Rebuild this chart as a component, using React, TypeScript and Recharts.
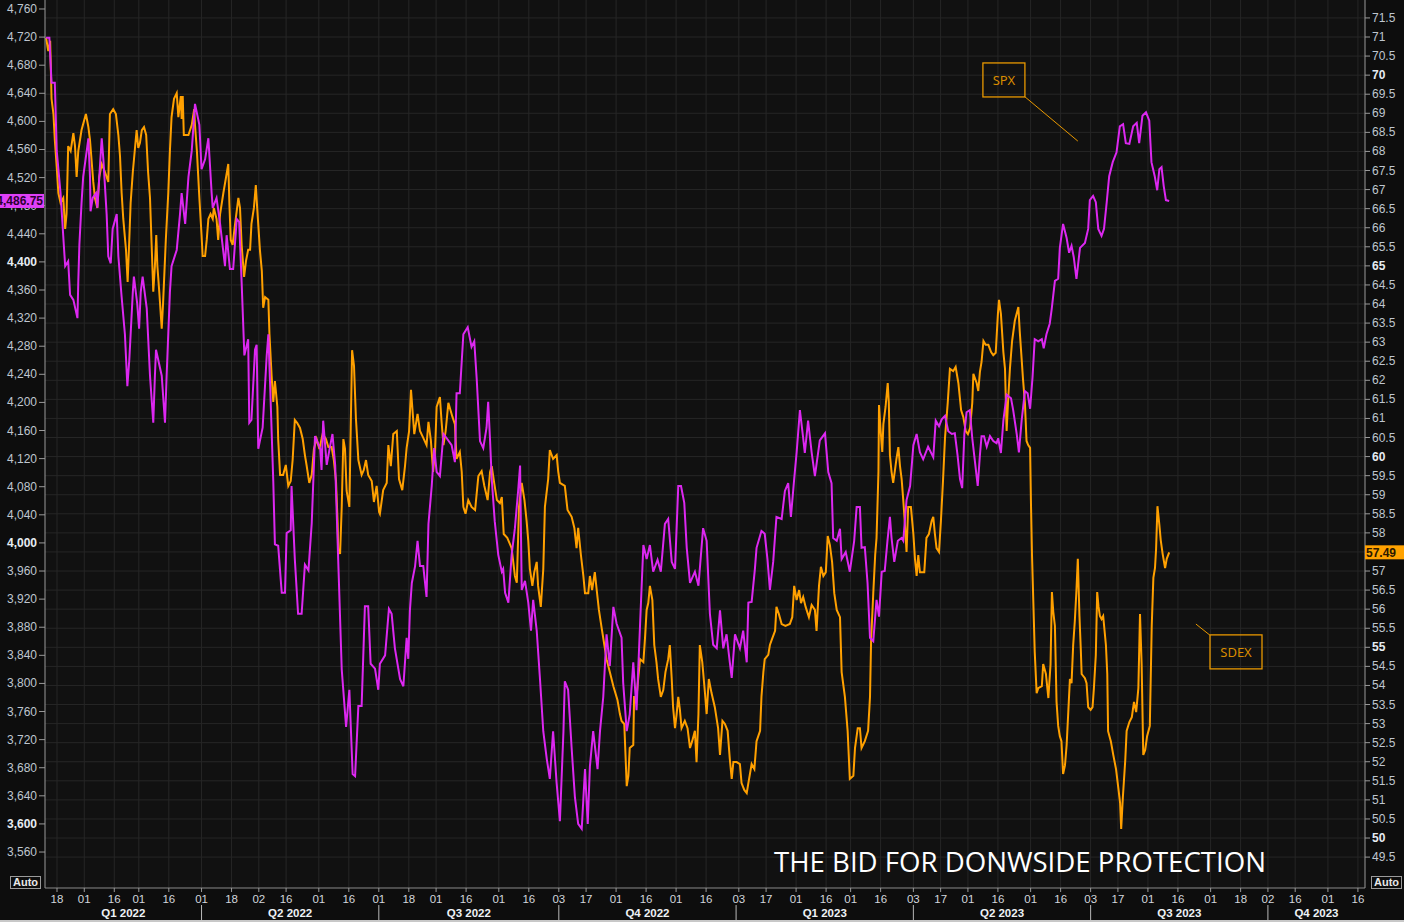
import React from 'react';
import { ComposedChart, Line, XAxis, YAxis, CartesianGrid, ReferenceLine, ReferenceDot } from 'recharts';

// x values = trading-day (weekday) index counted from 2022-01-12
const START = '2022-01-12';

const SPX: [number, number][] = [[0,4719],[1.2,4719],[2.0,4655],[3.2,4655],[3.9,4558],[5.3,4498],[6.5,4424],[7.0,4394],[8.1,4401],[8.8,4353],[10.0,4346],[11.5,4320],[11.8,4371],[12.2,4424],[13.0,4484],[13.6,4521],[14.9,4558],[15.5,4576],[16.1,4521],[16.3,4472],[17.1,4491],[18.3,4498],[18.8,4477],[19.5,4521],[20.4,4576],[21.0,4546],[22.2,4468],[22.8,4408],[23.7,4398],[24.4,4447],[25.9,4468],[26.5,4408],[27.7,4350],[28.9,4297],[29.8,4223],[30.5,4260],[31.8,4357],[32.2,4379],[33.4,4341],[34.1,4305],[34.7,4357],[35.4,4379],[36.9,4334],[38.1,4238],[39.3,4171],[39.9,4238],[40.3,4275],[42.4,4238],[43.6,4171],[44.2,4238],[45.4,4357],[46.0,4394],[47.9,4417],[49.1,4468],[49.7,4498],[51.0,4454],[52.2,4521],[53.4,4558],[54.6,4625],[56.2,4595],[57.0,4532],[58.3,4546],[59.5,4576],[60.7,4498],[61.1,4477],[62.5,4491],[63.8,4454],[65.6,4394],[66.2,4438],[67.4,4390],[68.6,4390],[69.9,4461],[70.8,4457],[71.7,4371],[72.7,4267],[74.1,4290],[74.5,4171],[75.3,4175],[76.6,4275],[77.2,4282],[77.8,4134],[79.4,4164],[80.9,4267],[81.5,4297],[82.1,4230],[83.3,4088],[83.9,3998],[85.1,3996],[86.4,3929],[87.6,3929],[88.2,4014],[89.7,4018],[90.0,4081],[91.2,3977],[92.4,3899],[93.7,3899],[94.9,3969],[96.2,3961],[97.4,4028],[98.6,4152],[100.5,4134],[101.0,4104],[101.6,4174],[102.9,4111],[104.1,4137],[105.0,4155],[106.0,4111],[107.1,3977],[108.4,3820],[110.0,3738],[111.2,3791],[112.4,3671],[113.3,3668],[114.5,3768],[115.7,3768],[116.9,3910],[118.1,3910],[119.0,3828],[120.6,3821],[121.8,3791],[122.4,3828],[124.3,3840],[125.7,3906],[126.7,3899],[127.9,3850],[129.8,3806],[131.0,3796],[132.2,3865],[132.8,3835],[133.4,3904],[134.1,3943],[135.3,3967],[136.2,4003],[137.1,3967],[138.3,3967],[139.5,3923],[140.2,4027],[141.4,4081],[142.3,4135],[143.2,4101],[144.4,4095],[145.7,4155],[146.9,4149],[148.7,4139],[149.9,4115],[150.5,4213],[151.7,4213],[153.0,4297],[154.6,4307],[156.0,4279],[157.0,4287],[157.9,4233],[159.1,4145],[160.3,4135],[161.5,4164],[162.1,4201],[162.8,4145],[163.4,4091],[164.5,4031],[165.8,3983],[167.1,3959],[167.6,3963],[168.3,3929],[169.5,3915],[170.7,3983],[171.9,4021],[173.1,4075],[173.8,4110],[174.4,3933],[175.6,3946],[176.8,3915],[177.8,3875],[178.6,3919],[179.9,3875],[181.1,3806],[182.3,3732],[183.6,3692],[184.7,3664],[185.9,3732],[187.2,3658],[188.4,3604],[189.7,3732],[190.2,3803],[191.4,3791],[192.7,3708],[193.9,3638],[195.1,3600],[196.4,3593],[197.6,3678],[198.6,3600],[199.4,3682],[200.6,3732],[202.2,3678],[203.1,3732],[204.3,3781],[205.5,3870],[206.7,3825],[208.0,3909],[209.2,3885],[211.0,3865],[211.6,3801],[212.9,3732],[214.0,3756],[215.3,3830],[216.5,3762],[217.8,3885],[219.0,3997],[220.2,3977],[221.4,3997],[222.6,3959],[224.2,3976],[225.4,3959],[226.9,4027],[228.1,4034],[229.4,3973],[230.6,3963],[231.8,4081],[232.8,4081],[234.0,4057],[234.9,3993],[236.1,3943],[237.9,3959],[239.2,3939],[240.9,4021],[242.2,4003],[243.4,3899],[244.6,3855],[245.9,3850],[247.1,3904],[248.3,3850],[249.5,3870],[250.7,3830],[251.4,3808],[252.6,3870],[254.4,3850],[255.6,3875],[256.9,3830],[257.5,3915],[258.7,3916],[259.9,3963],[260.5,3993],[262.3,4017],[263.5,4013],[264.5,3977],[265.4,3933],[266.6,3973],[267.8,4037],[269.7,4034],[270.9,4074],[272.1,4085],[273.1,4037],[274.3,4091],[275.2,4129],[276.4,4189],[277.6,4149],[278.2,4128],[279.4,4174],[280.7,4129],[281.9,4095],[283.7,4146],[285.6,4156],[286.8,4101],[288.0,4085],[288.6,4007],[289.9,4003],[291.1,4020],[291.7,3977],[293.2,3987],[294.7,3959],[296.3,4003],[297.2,4051],[298.4,4051],[299.0,3993],[300.2,3994],[301.2,3943],[302.1,3865],[303.3,3860],[304.5,3919],[305.4,3895],[306.4,3959],[307.5,3960],[308.5,4003],[309.4,4037],[310.0,4007],[311.0,3973],[312.3,4003],[313.7,4007],[314.3,4003],[315.5,4061],[316.8,4081],[318.0,4139],[319.2,4155],[320.4,4129],[321.6,4119],[323.4,4137],[325.3,4122],[326.2,4174],[327.4,4166],[328.4,4176],[329.6,4181],[330.8,4159],[332.1,4155],[333.2,4156],[334.2,4125],[335.1,4091],[335.9,4078],[336.7,4155],[337.5,4186],[338.7,4189],[339.6,4149],[340.6,4115],[341.6,4081],[342.4,4125],[343.0,4152],[343.9,4152],[344.9,4137],[346.1,4152],[347.3,4145],[348.5,4142],[349.1,4149],[350.1,4128],[351.0,4174],[352.2,4211],[353.8,4206],[354.6,4189],[355.9,4155],[356.7,4129],[357.7,4174],[358.9,4216],[359.9,4213],[360.8,4191],[361.7,4236],[362.5,4290],[363.8,4287],[365.1,4290],[365.8,4277],[366.8,4297],[368.0,4312],[368.7,4332],[369.9,4373],[371.1,4376],[371.7,4420],[372.9,4454],[374.2,4434],[375.1,4413],[376.0,4423],[376.8,4407],[377.8,4376],[379.1,4420],[380.9,4427],[382.1,4447],[382.7,4488],[383.9,4494],[384.9,4485],[385.8,4447],[387.0,4437],[387.9,4447],[388.9,4485],[389.8,4522],[391.1,4542],[392.5,4556],[393.7,4593],[394.9,4596],[395.9,4569],[397.2,4568],[398.6,4593],[399.9,4598],[400.8,4569],[402.0,4608],[403.3,4613],[404.5,4601],[405.3,4542],[406.5,4522],[407.4,4502],[408.2,4532],[409.0,4535],[409.8,4508],[410.6,4488],[411.8,4486.75]];

const SDEX: [number, number][] = [[0,70.98],[0.8,70.63],[1.5,70.9],[2.0,69.38],[2.7,68.98],[3.2,68.3],[3.9,67.59],[4.5,66.91],[5.3,66.65],[6.3,66.78],[7.0,65.97],[7.5,66.36],[8.1,68.14],[9.0,68.01],[10.0,68.48],[10.6,68.14],[11.2,67.33],[11.8,68.01],[13.0,68.56],[14.6,68.98],[15.5,68.64],[16.1,68.3],[16.7,67.75],[17.3,67.2],[17.9,66.78],[18.8,66.52],[19.5,67.33],[20.4,67.67],[21.6,67.46],[22.8,67.2],[23.4,68.98],[24.6,69.11],[25.6,68.98],[26.5,68.43],[27.1,67.88],[27.7,66.91],[28.3,66.23],[29.3,65.42],[29.9,64.58],[30.5,65.68],[31.0,66.65],[31.8,67.46],[32.6,68.09],[33.2,68.56],[33.8,68.09],[34.4,68.22],[35.1,68.56],[35.9,68.64],[36.7,68.43],[37.4,67.46],[38.1,66.78],[38.7,65.55],[39.3,64.32],[39.9,65.0],[40.4,65.81],[40.8,65.0],[41.5,64.32],[42.4,63.35],[42.9,64.03],[43.9,65.68],[44.8,66.91],[45.4,68.01],[46.0,68.9],[46.9,69.38],[47.9,69.53],[48.5,68.9],[49.4,69.45],[49.7,68.85],[50.1,69.45],[50.5,68.43],[52.2,68.43],[53.4,68.69],[54.3,69.11],[54.6,68.69],[55.3,68.01],[56.2,66.78],[57.0,65.81],[57.4,65.26],[58.3,65.26],[58.9,65.68],[59.5,66.23],[60.3,66.36],[61.1,66.23],[61.5,66.52],[62.5,66.23],[63.1,65.68],[63.8,66.36],[65.0,66.91],[66.0,67.33],[66.8,67.67],[67.2,66.65],[67.7,65.68],[68.4,65.55],[69.3,66.1],[70.5,66.78],[71.1,66.52],[71.7,65.55],[72.6,64.71],[73.3,65.13],[74.1,65.42],[74.8,65.42],[75.3,66.1],[76.2,66.52],[76.9,67.12],[77.4,66.52],[78.4,65.42],[79.1,64.87],[79.6,63.9],[80.3,64.18],[81.5,64.11],[81.9,63.21],[82.7,62.11],[83.3,61.43],[83.9,61.98],[84.8,61.3],[85.1,60.46],[85.8,59.52],[86.9,59.52],[87.9,59.78],[88.8,59.23],[89.7,59.36],[90.4,59.91],[91.2,60.96],[92.1,60.88],[93.1,60.75],[94.1,60.46],[94.9,60.04],[95.5,59.78],[96.5,59.31],[97.4,59.52],[98.2,60.2],[99.2,60.46],[100.2,60.2],[101.4,60.59],[102.6,60.46],[103.5,60.25],[104.7,60.25],[105.5,59.91],[106.3,59.36],[106.9,58.26],[107.1,57.58],[107.8,57.45],[108.4,58.68],[109.0,60.46],[109.6,60.2],[110.2,59.1],[111.2,58.68],[111.7,60.75],[112.2,62.79],[112.9,62.38],[113.6,61.01],[114.5,59.91],[115.7,59.52],[116.5,59.65],[117.3,59.91],[118.1,59.52],[119.4,59.36],[120.2,58.81],[121.2,59.23],[122.1,58.55],[122.4,58.5],[123.6,59.12],[124.9,59.31],[125.5,60.3],[126.4,59.75],[127.3,60.59],[128.6,60.67],[129.4,59.41],[130.6,59.12],[131.6,59.75],[132.2,60.23],[133.1,60.67],[133.8,61.75],[135.0,60.59],[136.2,61.12],[137.1,60.67],[138.3,60.49],[139.5,60.3],[140.2,60.91],[141.1,60.41],[141.9,59.6],[142.6,60.12],[143.2,61.3],[144.4,61.56],[145.0,60.93],[145.7,60.3],[146.5,60.67],[147.5,61.41],[149.0,61.04],[149.9,60.85],[150.5,59.94],[151.7,60.12],[152.4,59.6],[153.0,58.68],[153.8,58.5],[154.8,58.86],[156.0,58.68],[157.3,58.6],[158.5,59.49],[159.7,59.62],[160.7,59.23],[161.9,58.86],[162.8,59.6],[163.4,59.75],[164.3,59.31],[165.3,58.86],[166.4,58.78],[167.1,58.94],[167.8,57.97],[169.1,57.87],[170.7,57.6],[171.9,56.87],[172.6,56.69],[173.4,58.68],[174.4,59.31],[175.4,58.86],[176.2,58.31],[176.8,57.79],[177.4,57.05],[178.3,56.61],[179.0,56.97],[179.9,57.24],[180.4,56.61],[181.4,56.06],[182.3,57.05],[182.9,58.68],[184.1,59.41],[184.7,60.17],[185.9,59.94],[187.2,60.04],[187.8,59.6],[188.4,59.31],[190.2,59.23],[191.2,58.6],[192.7,58.42],[193.7,58.13],[194.5,57.6],[195.1,58.13],[196.1,57.42],[197.0,56.87],[197.6,56.42],[198.8,56.42],[199.4,56.87],[200.2,56.5],[201.2,56.97],[201.9,56.5],[202.7,55.98],[203.7,55.51],[204.7,55.06],[205.5,54.69],[206.7,54.35],[208.0,53.98],[209.5,53.62],[210.4,53.25],[211.0,53.07],[212.0,52.99],[212.9,51.36],[213.5,51.63],[214.0,52.36],[215.3,52.44],[215.6,53.7],[216.5,53.7],[217.1,54.17],[217.8,54.69],[219.0,54.61],[219.6,55.24],[220.2,55.98],[220.8,56.16],[221.4,56.61],[222.3,56.24],[223.0,55.06],[223.8,54.61],[224.4,54.17],[225.4,53.7],[226.3,53.88],[227.1,54.35],[228.1,54.69],[228.7,55.06],[229.4,54.17],[229.9,53.43],[230.6,52.88],[231.2,53.25],[231.8,53.7],[232.4,53.36],[233.0,52.88],[234.2,53.07],[235.2,52.88],[236.1,52.36],[236.9,52.54],[237.9,52.81],[238.5,51.99],[239.2,53.25],[239.7,55.06],[240.6,54.61],[241.6,53.8],[242.2,53.25],[243.0,54.17],[244.0,53.8],[245.2,53.43],[246.4,52.88],[247.1,52.18],[248.0,53.07],[248.9,52.99],[249.9,52.81],[250.7,52.07],[251.4,51.55],[252.0,51.99],[253.2,51.99],[254.4,51.94],[255.0,51.44],[256.0,51.26],[256.9,51.18],[257.5,51.44],[258.7,51.94],[259.7,51.81],[260.5,52.54],[261.8,52.81],[262.3,53.7],[263.0,54.35],[263.5,54.69],[264.8,54.8],[265.4,55.06],[266.3,55.24],[267.3,55.43],[267.8,56.06],[268.7,55.87],[269.7,55.61],[271.1,55.56],[272.7,55.61],[273.6,55.79],[274.3,56.61],[275.2,56.24],[276.1,56.5],[276.8,56.16],[277.6,56.32],[278.5,56.06],[279.7,55.79],[280.7,56.11],[281.9,55.98],[282.5,55.43],[283.4,56.61],[284.1,57.11],[285.0,56.87],[285.9,56.97],[286.6,57.92],[287.4,57.68],[288.2,57.24],[289.0,56.42],[289.9,55.98],[291.1,55.79],[291.7,54.35],[292.9,53.7],[293.9,52.81],[294.7,51.55],[296.0,51.63],[296.6,52.36],[297.6,52.88],[298.4,52.88],[299.0,52.36],[300.2,52.54],[301.4,52.81],[302.1,53.7],[302.5,55.17],[303.3,56.42],[304.0,57.42],[304.5,57.87],[305.2,59.6],[305.4,61.35],[306.0,60.67],[306.6,60.12],[307.0,60.85],[307.8,61.3],[308.6,61.93],[309.0,61.41],[309.4,60.04],[310.0,59.6],[310.6,59.31],[311.3,59.67],[311.8,59.94],[312.5,60.25],[313.1,59.75],[313.7,59.41],[314.3,58.86],[314.9,58.23],[315.5,57.5],[316.1,58.68],[317.1,58.68],[318.0,57.97],[318.6,57.31],[319.2,56.87],[319.8,57.42],[320.4,56.97],[322.0,56.97],[322.8,57.87],[323.7,57.97],[324.7,58.31],[325.3,58.42],[325.9,57.97],[326.5,57.6],[327.4,57.5],[328.1,58.31],[328.9,59.41],[329.6,60.49],[330.6,61.41],[331.4,62.3],[332.6,62.24],[333.5,62.35],[334.5,61.93],[335.5,61.22],[336.3,61.04],[337.2,60.67],[338.0,60.59],[338.8,60.75],[339.6,61.41],[340.0,62.17],[341.2,61.93],[341.8,61.72],[342.4,62.22],[343.0,62.48],[343.7,63.03],[344.5,62.93],[345.5,62.93],[346.5,62.74],[347.3,62.66],[348.2,62.72],[349.0,63.74],[349.4,64.11],[350.1,63.74],[351.0,62.74],[351.6,62.3],[352.2,60.67],[352.7,61.41],[353.4,62.3],[354.2,63.03],[355.2,63.56],[356.5,63.92],[357.0,63.29],[357.7,62.56],[358.2,62.03],[358.9,61.41],[359.5,60.41],[360.1,60.3],[360.8,60.23],[361.1,58.86],[361.5,57.42],[362.0,56.16],[362.5,54.88],[363.2,53.8],[363.8,53.93],[365.1,53.98],[365.6,54.56],[366.6,54.3],[367.5,53.67],[368.3,54.56],[368.8,56.45],[369.3,55.93],[369.9,55.56],[370.5,53.57],[371.1,52.94],[371.7,52.67],[372.3,52.54],[372.9,51.68],[373.6,51.91],[374.2,52.44],[374.8,53.3],[375.4,54.17],[376.0,54.06],[376.6,55.06],[377.2,55.69],[377.8,56.5],[378.3,57.32],[378.9,55.82],[379.4,54.93],[379.7,54.3],[380.9,54.19],[381.5,54.06],[382.1,53.43],[383.0,53.36],[383.7,53.43],[384.2,53.93],[384.9,54.8],[385.4,56.45],[385.9,56.06],[386.4,55.82],[387.0,55.74],[387.6,55.82],[388.6,55.06],[389.1,54.3],[389.4,52.8],[390.4,52.54],[391.3,52.18],[392.3,51.81],[393.2,51.28],[393.8,50.92],[394.2,50.24],[394.8,51.05],[395.7,52.05],[396.2,52.81],[397.2,53.04],[398.1,53.17],[398.9,53.57],[399.7,53.3],[400.5,53.93],[401.1,55.87],[401.7,54.56],[402.3,52.18],[403.0,52.31],[403.7,52.67],[404.7,52.94],[405.4,55.56],[406.0,56.82],[406.6,57.08],[407.0,57.58],[407.5,58.7],[408.2,58.21],[408.7,57.81],[409.4,57.45],[410.3,57.08],[410.9,57.32],[411.8,57.49]];

const DAY_TICKS = ['2022-01-18','2022-02-01','2022-02-16','2022-03-01','2022-03-16','2022-04-01','2022-04-18','2022-05-02','2022-05-16','2022-06-01','2022-06-16','2022-07-01','2022-07-18','2022-08-01','2022-08-16','2022-09-01','2022-09-16','2022-10-03','2022-10-17','2022-11-01','2022-11-16','2022-12-01','2022-12-16','2023-01-03','2023-01-17','2023-02-01','2023-02-16','2023-03-01','2023-03-16','2023-04-03','2023-04-17','2023-05-01','2023-05-16','2023-06-01','2023-06-16','2023-07-03','2023-07-17','2023-08-01','2023-08-16','2023-09-01','2023-09-18','2023-10-02','2023-10-16','2023-11-01','2023-11-16'];

const QUARTER_LABELS = ['Q1 2022','Q2 2022','Q3 2022','Q4 2022','Q1 2023','Q2 2023','Q3 2023','Q4 2023'];
const QUARTER_STARTS = ['2022-01-01','2022-04-01','2022-07-01','2022-10-01','2023-01-01','2023-04-01','2023-07-01','2023-10-01','2024-01-01'];

const LEFT_TICKS = [3560,3600,3640,3680,3720,3760,3800,3840,3880,3920,3960,4000,4040,4080,4120,4160,4200,4240,4280,4320,4360,4400,4440,4480,4520,4560,4600,4640,4680,4720,4760];
const RIGHT_TICKS = [49.5,50,50.5,51,51.5,52,52.5,53,53.5,54,54.5,55,55.5,56,56.5,57,57.5,58,58.5,59,59.5,60,60.5,61,61.5,62,62.5,63,63.5,64,64.5,65,65.5,66,66.5,67,67.5,68,68.5,69,69.5,70,70.5,71,71.5];

const X_DOMAIN: [number, number] = [-0.4, 483.6];
const LEFT_DOMAIN: [number, number] = [3508.8, 4772.8];
const RIGHT_DOMAIN: [number, number] = [48.69, 71.97];

const SPX_LAST = 4486.75;
const SDEX_LAST = 57.49;

// annotation anchors (data coordinates)
const SPX_BOX = { x: 351.2, y: 4659 };
const SPX_LEADER = [{ x: 358.9, y: 4635 }, { x: 378.3, y: 4572 }];
const SDEX_BOX = { x: 436.3, y: 54.88 };
const SDEX_LEADER = [{ x: 421.6, y: 55.61 }, { x: 426.7, y: 55.32 }];

const MAGENTA = '#dc28f0';
const ORANGE = '#ffa000';
const FONT = "'Liberation Sans', Arial, sans-serif";
const NARROW = "'Liberation Sans Narrow', 'Liberation Sans', Arial, sans-serif";

function weekdayIndex(s: string): number {
  const a = Date.parse(START + 'T00:00:00Z');
  const b = Date.parse(s + 'T00:00:00Z');
  let n = 0;
  if (b >= a) {
    for (let t = a; t < b; t += 86400000) {
      const d = new Date(t).getUTCDay();
      if (d !== 0 && d !== 6) n++;
    }
  } else {
    for (let t = b; t < a; t += 86400000) {
      const d = new Date(t).getUTCDay();
      if (d !== 0 && d !== 6) n--;
    }
  }
  return n;
}

const spxData = SPX.map(([w, v]) => ({ w, v }));
const sdexData = SDEX.map(([w, v]) => ({ w, v }));

const dayTickPos = DAY_TICKS.map(weekdayIndex);
const dayLabel = new Map<number, string>();
DAY_TICKS.forEach((s, i) => dayLabel.set(dayTickPos[i], s.slice(8)));

const clampX = (v: number) => Math.min(X_DOMAIN[1], Math.max(X_DOMAIN[0], v));
const qBounds = QUARTER_STARTS.map((s) => clampX(weekdayIndex(s)));
type QT = { v: number; kind: 'sep' | 'label'; text: string };
const quarterTicks: QT[] = [];
QUARTER_LABELS.forEach((lab, i) => {
  quarterTicks.push({ v: (qBounds[i] + qBounds[i + 1]) / 2, kind: 'label', text: lab });
  if (i > 0) quarterTicks.push({ v: qBounds[i], kind: 'sep', text: '' });
});

// last-value tag is rendered as the final tick so it sits on top of the other labels
const LeftTick = (props: any) => {
  const { x, y, payload } = props;
  const v = payload.value as number;
  if (v === SPX_LAST) {
    return (
      <g>
        <rect x={x - 45} y={y - 7} width={44} height={14} fill="#e040f8" />
        <text x={x - 2} y={y + 4.5} textAnchor="end" fontFamily={FONT} fontSize={12} fontWeight={700} fill="#2a0030">
          {v.toLocaleString('en-US', { minimumFractionDigits: 2 })}
        </text>
      </g>
    );
  }
  const bold = v % 400 === 0;
  return (
    <g>
      <line x1={x - 6} x2={x} y1={y} y2={y} stroke="#9a9a9a" strokeWidth={1} />
      <text x={x - 8} y={y} dy={4} textAnchor="end" fontFamily={FONT} fontSize={12}
        fontWeight={bold ? 700 : 400} fill={bold ? '#e6ecf2' : '#bfc6cf'}>
        {v.toLocaleString('en-US')}
      </text>
    </g>
  );
};

const RightTick = (props: any) => {
  const { x, y, payload } = props;
  const v = payload.value as number;
  if (v === SDEX_LAST) {
    return (
      <g>
        <rect x={x} y={y - 7} width={39} height={14} fill="#ffa200" />
        <text x={x + 1} y={y + 4.5} textAnchor="start" fontFamily={FONT} fontSize={12} fontWeight={700} fill="#2a1800">
          {String(v)}
        </text>
      </g>
    );
  }
  const bold = v % 5 === 0;
  return (
    <g>
      <line x1={x} x2={x + 5} y1={y} y2={y} stroke="#9a9a9a" strokeWidth={1} />
      <text x={x + 7} y={y} dy={4} textAnchor="start" fontFamily={FONT} fontSize={12}
        fontWeight={bold ? 700 : 400} fill={bold ? '#e6ecf2' : '#bfc6cf'}>
        {String(v)}
      </text>
    </g>
  );
};

const DayTick = (props: any) => {
  const { x, y, payload } = props;
  const v = payload.value as number;
  return (
    <g>
      <line x1={x} x2={x} y1={y} y2={y + 4} stroke="#9a9a9a" strokeWidth={1} />
      <text x={x} y={y + 15} textAnchor="middle" fontFamily={NARROW} fontSize={11.5} fill="#d2d6dc">
        {dayLabel.get(v) ?? ''}
      </text>
    </g>
  );
};

const QuarterTick = (props: any) => {
  const { x, y, payload } = props;
  const v = payload.value as number;
  const t = quarterTicks.find((q) => Math.abs(q.v - v) < 1e-6);
  if (!t) return <g />;
  if (t.kind === 'sep') {
    return <line x1={x} x2={x} y1={y + 1} y2={y + 17} stroke="#b8b8b8" strokeWidth={1} />;
  }
  return (
    <text x={x} y={y + 13} textAnchor="middle" fontFamily={NARROW} fontSize={11.5} fontWeight={700} fill="#eef2f6">
      {t.text}
    </text>
  );
};

const boxShape = (text: string, w: number, h: number) => (props: any) => {
  const { cx, cy } = props;
  return (
    <g>
      <rect x={cx - w / 2} y={cy - h / 2} width={w} height={h} fill="none" stroke="#e89800" strokeWidth={1.3} />
      <text x={cx} y={cy + 5} textAnchor="middle" fontFamily="'Noto Sans', 'Liberation Sans', sans-serif" fontSize={13} fill="#d98c00">{text}</text>
    </g>
  );
};

const AutoBox = ({ left }: { left: number }) => (
  <div style={{
    position: 'absolute', left, top: 876, width: 29, height: 11, border: '1px solid #9a9a9a',
    color: '#e8e8e8', fontFamily: NARROW, fontWeight: 700, fontSize: 11, lineHeight: '11px', textAlign: 'center',
  }}>Auto</div>
);

export default function App() {
  return (
    <div style={{ position: 'absolute', left: 0, top: 0, width: 1404, height: 922, background: '#0d0d0d', overflow: 'hidden' }}>
      <ComposedChart width={1404} height={922} margin={{ top: 0, right: 0, bottom: 0, left: 0 }}>
        <CartesianGrid xAxisId="main" yAxisId="right" stroke="#262626" strokeWidth={1} fill="#111111"
          horizontalValues={RIGHT_TICKS} verticalValues={dayTickPos} />
        <XAxis xAxisId="main" dataKey="w" type="number" domain={X_DOMAIN} ticks={dayTickPos}
          allowDataOverflow height={16} tick={<DayTick />} tickLine={false} tickSize={0} tickMargin={0}
          axisLine={{ stroke: '#8a8a8a' }} interval={0} />
        <XAxis xAxisId="q" dataKey="w" type="number" domain={X_DOMAIN} ticks={quarterTicks.map((q) => q.v)}
          allowDataOverflow height={18} tick={<QuarterTick />} tickLine={false} tickSize={0} tickMargin={0}
          axisLine={false} interval={0} />
        <YAxis yAxisId="left" orientation="left" width={45} domain={LEFT_DOMAIN} ticks={[...LEFT_TICKS, SPX_LAST]}
          allowDataOverflow tick={<LeftTick />} tickLine={false} tickSize={0} tickMargin={0}
          axisLine={{ stroke: '#9a9a9a' }} interval={0} />
        <YAxis yAxisId="right" orientation="right" width={39} domain={RIGHT_DOMAIN} ticks={[...RIGHT_TICKS, SDEX_LAST]}
          allowDataOverflow tick={<RightTick />} tickLine={false} tickSize={0} tickMargin={0}
          axisLine={{ stroke: '#9a9a9a' }} interval={0} />

        <Line xAxisId="main" yAxisId="right" data={sdexData} dataKey="v" type="linear" stroke={ORANGE}
          strokeWidth={2} dot={false} activeDot={false} isAnimationActive={false} />
        <Line xAxisId="main" yAxisId="left" data={spxData} dataKey="v" type="linear" stroke={MAGENTA}
          strokeWidth={2} dot={false} activeDot={false} isAnimationActive={false} />

        <ReferenceLine xAxisId="main" yAxisId="left" segment={SPX_LEADER} stroke="#e89800" strokeWidth={1} ifOverflow="visible" />
        <ReferenceLine xAxisId="main" yAxisId="right" segment={SDEX_LEADER} stroke="#e89800" strokeWidth={1} ifOverflow="visible" />
        <ReferenceDot xAxisId="main" yAxisId="left" x={SPX_BOX.x} y={SPX_BOX.y} r={0} ifOverflow="visible" shape={boxShape('SPX', 42, 34)} />
        <ReferenceDot xAxisId="main" yAxisId="right" x={SDEX_BOX.x} y={SDEX_BOX.y} r={0} ifOverflow="visible" shape={boxShape('SDEX', 52, 34)} />
      </ComposedChart>

      <svg style={{ position: 'absolute', left: 0, top: 0, pointerEvents: 'none' }} width={1404} height={922}>
        <text x={774} y={872} textLength={492} lengthAdjust="spacingAndGlyphs"
          fontFamily="'Open Sans', 'Noto Sans', sans-serif" fontSize={27} fill="#ffffff">
          THE BID FOR DONWSIDE PROTECTION
        </text>
      </svg>
      <AutoBox left={10} />
      <AutoBox left={1371} />
      <div style={{ position: 'absolute', left: 0, top: 920, width: 1404, height: 2, background: '#c8c8c8' }} />
    </div>
  );
}
